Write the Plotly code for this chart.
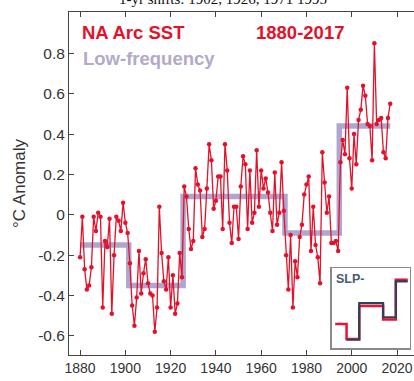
import plotly.graph_objects as go

# ---------------- data ----------------
YEARS = list(range(1880, 2018))
SST = [
    # 1880-1901
    -0.21, -0.01, -0.27, -0.37, -0.35, -0.26, -0.01, -0.08, 0.01, -0.01, -0.46,
    -0.13, -0.16, -0.02, -0.49, -0.20, -0.01, -0.03, -0.08, 0.06, -0.04, -0.09,
    # 1902-1925
    -0.24, -0.45, -0.55, -0.41, -0.18, -0.39, -0.29, -0.22, -0.34, -0.39, -0.40, -0.58,
    -0.46, 0.04, -0.19, -0.33, -0.37, -0.21, -0.46, -0.30, -0.49, -0.44, -0.19, -0.31,
    # 1926-1970
    0.14, 0.09, -0.07, -0.17, -0.13, 0.23, 0.15, 0.12, -0.11, -0.07, 0.13, 0.35,
    0.27, 0.03, 0.07, 0.19, 0.19, -0.07, 0.35, 0.22, -0.04, -0.14, 0.04, 0.04,
    -0.12, 0.14, 0.29, 0.25, -0.07, 0.22, -0.04, 0.01, 0.32, 0.04, 0.22, 0.13,
    0.18, 0.11, 0.01, -0.08, 0.21, -0.05, 0.01, 0.26, 0.02,
    # 1971-1994
    -0.20, -0.37, -0.10, -0.46, -0.23, -0.31, -0.11, -0.05, 0.10, 0.15, 0.19, -0.18,
    0.04, -0.15, -0.21, -0.34, 0.31, 0.16, 0.01, 0.09, -0.14, -0.14, -0.13, -0.18,
    # 1995-2017
    0.26, 0.37, 0.30, 0.63, 0.28, 0.13, 0.40, 0.25, 0.47, 0.52, 0.64, 0.59,
    0.45, 0.44, 0.27, 0.85, 0.45, 0.47, 0.48, 0.31, 0.28, 0.48, 0.55,
]
SHIFT_YEARS = [1902, 1926, 1971, 1995]
LOWFREQ_LEVELS = [-0.15, -0.35, 0.09, -0.09, 0.44]
SLP_LEVELS = [None, -0.36, 0.13, -0.06, 0.42]   # inverted SLP regimes (inset)

Y_TICKS = [-0.6, -0.4, -0.2, 0, 0.2, 0.4, 0.6, 0.8]
Y_TICK_LABELS = ["-0.6", "-0.4", "-0.2", "0", "0.2", "0.4", "0.6", "0.8"]
X_TICKS = [1880, 1900, 1920, 1940, 1960, 1980, 2000, 2020]
X_TICK_LABELS = [str(v) for v in X_TICKS]

TITLE = "1-yr shifts: 1902, 1926, 1971 1995"
LABEL_SERIES = "NA Arc SST"
LABEL_LOW = "Low-frequency"
LABEL_PERIOD = "1880-2017"
LABEL_INSET = "SLP-"


def step_xy(levels, first, last, breaks):
    xs, ys = [], []
    bounds = [first] + [b - 0.5 for b in breaks] + [last]
    for i, lv in enumerate(levels):
        if lv is None:
            continue
        xs += [bounds[i], bounds[i + 1]]
        ys += [lv, lv]
    return xs, ys


RED = "#e3122b"
LAV = "rgba(140,128,186,0.70)"
AX = "#444444"

fig = go.Figure()

lx, ly = step_xy(LOWFREQ_LEVELS, YEARS[0], YEARS[-1], SHIFT_YEARS)
fig.add_trace(go.Scatter(x=lx, y=ly, mode="lines",
                         line=dict(color=LAV, width=5.5), hoverinfo="skip"))
fig.add_trace(go.Scatter(x=YEARS, y=SST, mode="lines+markers",
                         line=dict(color=RED, width=1.3),
                         marker=dict(color=RED, size=4.5)))

# inset
sx, sy = step_xy(SLP_LEVELS, YEARS[0], YEARS[-1], SHIFT_YEARS)
fig.add_trace(go.Scatter(x=lx, y=ly, mode="lines", xaxis="x2", yaxis="y2",
                         line=dict(color="#ee1133", width=2.5)))
fig.add_trace(go.Scatter(x=sx, y=sy, mode="lines", xaxis="x2", yaxis="y2",
                         line=dict(color="#2f3f5c", width=2.2)))

fig.update_layout(
    width=414, height=381, autosize=False,
    margin=dict(l=69, r=0, t=12, b=26),
    paper_bgcolor="white", plot_bgcolor="white",
    showlegend=False,
    font=dict(family="Arial, Liberation Sans, sans-serif", color="#333333"),
    xaxis=dict(range=[1875.1, 2027.5], tickvals=X_TICKS, ticktext=X_TICK_LABELS,
               ticks="inside", ticklen=5, tickcolor=AX, showline=True,
               linecolor=AX, linewidth=1, mirror="ticks", showgrid=False,
               zeroline=False, tickfont=dict(size=14, color="#333333")),
    yaxis=dict(range=[-0.695, 1.005], tickvals=Y_TICKS, ticktext=Y_TICK_LABELS,
               ticks="inside", ticklen=5, tickcolor=AX, showline=True,
               linecolor=AX, linewidth=1, showgrid=False, zeroline=False,
               tickfont=dict(size=15.5, color="#333333"),
               title=dict(text="°C Anomaly", font=dict(size=17, color="#333333"),
                          standoff=8)),
    xaxis2=dict(domain=[0.762, 0.988], anchor="y2", range=[1873.8, 2021],
                showticklabels=False, ticks="", showgrid=False, zeroline=False,
                showline=True, linecolor="#8a8a8a", linewidth=1.5, mirror=True),
    yaxis2=dict(domain=[0.0204, 0.2536], anchor="x2", range=[-0.47, 0.597],
                showticklabels=False, ticks="", showgrid=False, zeroline=False,
                showline=True, linecolor="#8a8a8a", linewidth=1.5, mirror=True),
)

fig.add_annotation(text=TITLE, xref="paper", yref="paper", x=0.445, y=1.0087,
                   xanchor="center", yanchor="bottom", showarrow=False,
                   font=dict(family="Liberation Serif, Times New Roman, serif",
                             size=15, color="#111111"))
fig.add_annotation(text="<b>" + LABEL_SERIES + "</b>", xref="paper", yref="paper",
                   x=0.033, y=0.9388, xanchor="left", yanchor="middle",
                   showarrow=False, font=dict(size=18.5, color=RED))
fig.add_annotation(text="<b>" + LABEL_LOW + "</b>", xref="paper", yref="paper",
                   x=0.036, y=0.863, xanchor="left", yanchor="middle",
                   showarrow=False, font=dict(size=18.5, color="#b3a9c9"))
fig.add_annotation(text="<b>" + LABEL_PERIOD + "</b>", xref="paper", yref="paper",
                   x=0.536, y=0.9388, xanchor="left", yanchor="middle",
                   showarrow=False, font=dict(size=18.5, color=RED))
fig.add_annotation(text="<b>" + LABEL_INSET + "</b>", xref="x2 domain", yref="y2 domain",
                   x=0.03, y=0.98, xanchor="left", yanchor="top",
                   showarrow=False, font=dict(size=12.5, color="#4a5a70"))

# remove the browser's default 8 px body margin so the figure sits at the page corner
fig.write_html("out.html",
               config={"displayModeBar": False, "staticPlot": True},
               post_script="document.body.style.margin='0px';document.body.style.overflow='hidden';")
